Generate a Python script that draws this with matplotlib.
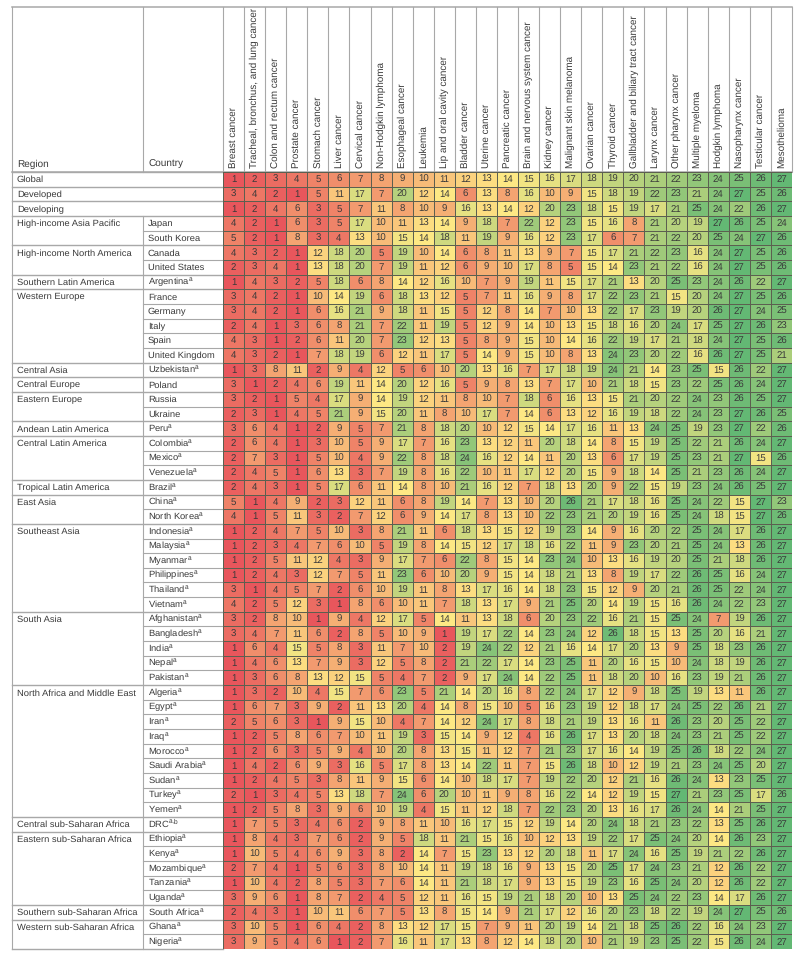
import numpy as np
import matplotlib
matplotlib.use("Agg")
from matplotlib import pyplot as plt
from matplotlib.colors import LinearSegmentedColormap

plt.rcParams['font.family'] = ['Liberation Sans', 'DejaVu Sans']
plt.rcParams['mathtext.default'] = 'regular'
plt.rcParams['text.hinting'] = 'no_hinting'

cancers = ["Breast cancer", "Tracheal, bronchus, and lung cancer", "Colon and rectum cancer",
           "Prostate cancer", "Stomach cancer", "Liver cancer", "Cervical cancer",
           "Non-Hodgkin lymphoma", "Esophageal cancer", "Leukemia", "Lip and oral cavity cancer",
           "Bladder cancer", "Uterine cancer", "Pancreatic cancer", "Brain and nervous system cancer",
           "Kidney cancer", "Malignant skin melanoma", "Ovarian cancer", "Thyroid cancer",
           "Gallbladder and biliary tract cancer", "Larynx cancer", "Other pharynx cancer",
           "Multiple myeloma", "Hodgkin lymphoma", "Nasopharynx cancer", "Testicular cancer",
           "Mesothelioma"]

# region name, number of rows it covers
regions = [("Global", 1), ("Developed", 1), ("Developing", 1), ("High-income Asia Pacific", 2),
           ("High-income North America", 2), ("Southern Latin America", 1), ("Western Europe", 5),
           ("Central Asia", 1), ("Central Europe", 1), ("Eastern Europe", 2),
           ("Andean Latin America", 1), ("Central Latin America", 3), ("Tropical Latin America", 1),
           ("East Asia", 2), ("Southeast Asia", 6), ("South Asia", 5),
           ("North Africa and Middle East", 9), ("Central sub-Saharan Africa", 1),
           ("Eastern sub-Saharan Africa", 5), ("Southern sub-Saharan Africa", 1),
           ("Western sub-Saharan Africa", 2)]

countries = ["", "", "", "Japan", "South Korea", "Canada", "United States", "Argentina$^{a}$",
             "France", "Germany", "Italy", "Spain", "United Kingdom", "Uzbekistan$^{a}$", "Poland",
             "Russia", "Ukraine", "Peru$^{a}$", "Colombia$^{a}$", "Mexico$^{a}$", "Venezuela$^{a}$",
             "Brazil$^{a}$", "China$^{a}$", "North Korea$^{a}$", "Indonesia$^{a}$", "Malaysia$^{a}$",
             "Myanmar$^{a}$", "Philippines$^{a}$", "Thailand$^{a}$", "Vietnam$^{a}$",
             "Afghanistan$^{a}$", "Bangladesh$^{a}$", "India$^{a}$", "Nepal$^{a}$", "Pakistan$^{a}$",
             "Algeria$^{a}$", "Egypt$^{a}$", "Iran$^{a}$", "Iraq$^{a}$", "Morocco$^{a}$",
             "Saudi Arabia$^{a}$", "Sudan$^{a}$", "Turkey$^{a}$", "Yemen$^{a}$", "DRC$^{a{,}b}$",
             "Ethiopia$^{a}$", "Kenya$^{a}$", "Mozambique$^{a}$", "Tanzania$^{a}$", "Uganda$^{a}$",
             "South Africa$^{a}$", "Ghana$^{a}$", "Nigeria$^{a}$"]

ranks = [
    [1, 2, 3, 4, 5, 6, 7, 8, 9, 10, 11, 12, 13, 14, 15, 16, 17, 18, 19, 20, 21, 22, 23, 24, 25, 26, 27],
    [3, 4, 2, 1, 5, 11, 17, 7, 20, 12, 14, 6, 13, 8, 16, 10, 9, 15, 18, 19, 22, 23, 21, 24, 27, 25, 26],
    [1, 2, 4, 6, 3, 5, 7, 11, 8, 10, 9, 16, 13, 14, 12, 20, 23, 18, 15, 19, 17, 21, 25, 24, 22, 26, 27],
    [4, 2, 1, 6, 3, 5, 17, 10, 11, 13, 14, 9, 18, 7, 22, 12, 23, 15, 16, 8, 21, 20, 19, 27, 26, 25, 24],
    [5, 2, 1, 8, 3, 4, 13, 10, 15, 14, 18, 11, 19, 9, 16, 12, 23, 17, 6, 7, 21, 22, 20, 25, 24, 27, 26],
    [4, 3, 2, 1, 12, 18, 20, 5, 19, 10, 14, 6, 8, 11, 13, 9, 7, 15, 17, 21, 22, 23, 16, 24, 27, 25, 26],
    [2, 3, 4, 1, 13, 18, 20, 7, 19, 11, 12, 6, 9, 10, 17, 8, 5, 15, 14, 23, 21, 22, 16, 24, 27, 25, 26],
    [1, 4, 3, 2, 5, 18, 6, 8, 14, 12, 16, 10, 7, 9, 19, 11, 15, 17, 21, 13, 20, 25, 23, 24, 26, 22, 27],
    [3, 4, 2, 1, 10, 14, 19, 6, 18, 13, 12, 5, 7, 11, 16, 9, 8, 17, 22, 23, 21, 15, 20, 24, 27, 25, 26],
    [3, 4, 2, 1, 6, 16, 21, 9, 18, 11, 15, 5, 12, 8, 14, 7, 10, 13, 22, 17, 23, 19, 20, 26, 27, 24, 25],
    [2, 4, 1, 3, 6, 8, 21, 7, 22, 11, 19, 5, 12, 9, 14, 10, 13, 15, 18, 16, 20, 24, 17, 25, 27, 26, 23],
    [4, 3, 1, 2, 6, 11, 20, 7, 23, 12, 13, 5, 8, 9, 15, 10, 14, 16, 22, 19, 17, 21, 18, 24, 27, 25, 26],
    [4, 3, 2, 1, 7, 18, 19, 6, 12, 11, 17, 5, 14, 9, 15, 10, 8, 13, 24, 23, 20, 22, 16, 26, 27, 25, 21],
    [1, 3, 8, 11, 2, 9, 4, 12, 5, 6, 10, 20, 13, 16, 7, 17, 18, 19, 24, 21, 14, 23, 25, 15, 26, 22, 27],
    [3, 1, 2, 4, 6, 19, 11, 14, 20, 12, 16, 5, 9, 8, 13, 7, 17, 10, 21, 18, 15, 23, 22, 25, 26, 24, 27],
    [3, 2, 1, 5, 4, 17, 9, 14, 19, 12, 11, 8, 10, 7, 18, 6, 16, 13, 15, 21, 20, 22, 24, 23, 26, 25, 27],
    [2, 3, 1, 4, 5, 21, 9, 15, 20, 11, 8, 10, 17, 7, 14, 6, 13, 12, 16, 19, 18, 22, 24, 23, 27, 26, 25],
    [3, 6, 4, 1, 2, 9, 5, 7, 21, 8, 18, 20, 10, 12, 15, 14, 17, 16, 11, 13, 24, 25, 19, 23, 27, 22, 26],
    [2, 6, 4, 1, 3, 10, 5, 9, 17, 7, 16, 23, 13, 12, 11, 20, 18, 14, 8, 15, 19, 25, 22, 21, 26, 24, 27],
    [2, 7, 3, 1, 5, 10, 4, 9, 22, 8, 18, 24, 16, 12, 14, 11, 20, 13, 6, 17, 19, 25, 23, 21, 27, 15, 26],
    [2, 4, 5, 1, 6, 13, 3, 7, 19, 8, 16, 22, 10, 11, 17, 12, 20, 15, 9, 18, 14, 25, 21, 23, 26, 24, 27],
    [2, 4, 3, 1, 5, 17, 6, 11, 14, 8, 10, 21, 16, 12, 7, 18, 13, 20, 9, 22, 15, 19, 23, 24, 26, 25, 27],
    [5, 1, 4, 9, 2, 3, 12, 11, 6, 8, 19, 14, 7, 13, 10, 20, 26, 21, 17, 18, 16, 25, 24, 22, 15, 27, 23],
    [4, 1, 5, 11, 3, 2, 7, 12, 6, 9, 14, 17, 8, 13, 10, 22, 23, 21, 20, 19, 16, 25, 24, 18, 15, 27, 26],
    [1, 2, 4, 7, 5, 10, 3, 8, 21, 11, 6, 18, 13, 15, 12, 19, 23, 14, 9, 16, 20, 22, 25, 24, 17, 26, 27],
    [1, 2, 3, 4, 7, 6, 10, 5, 19, 8, 14, 15, 12, 17, 18, 16, 22, 11, 9, 23, 20, 21, 25, 24, 13, 26, 27],
    [1, 2, 5, 11, 12, 4, 3, 9, 17, 7, 6, 22, 8, 15, 14, 23, 24, 10, 13, 16, 19, 20, 25, 21, 18, 26, 27],
    [1, 2, 4, 3, 12, 7, 5, 11, 23, 6, 10, 20, 9, 15, 14, 18, 21, 13, 8, 19, 17, 22, 26, 25, 16, 24, 27],
    [3, 1, 4, 5, 7, 2, 6, 10, 19, 11, 8, 13, 17, 16, 14, 18, 23, 15, 12, 9, 20, 21, 26, 25, 22, 24, 27],
    [4, 2, 5, 12, 3, 1, 8, 6, 10, 11, 7, 18, 13, 17, 9, 21, 25, 20, 14, 19, 15, 16, 26, 24, 22, 23, 27],
    [3, 2, 8, 10, 1, 9, 4, 12, 17, 5, 14, 11, 13, 18, 6, 20, 23, 22, 16, 21, 15, 25, 24, 7, 19, 26, 27],
    [3, 4, 7, 11, 6, 2, 8, 5, 10, 9, 1, 19, 17, 22, 14, 23, 24, 12, 26, 18, 15, 13, 25, 20, 16, 21, 27],
    [1, 6, 4, 15, 5, 8, 3, 11, 7, 10, 2, 19, 24, 22, 12, 21, 16, 14, 17, 20, 13, 9, 25, 18, 23, 26, 27],
    [1, 4, 6, 13, 7, 9, 3, 12, 5, 8, 2, 21, 22, 17, 14, 23, 25, 11, 20, 16, 15, 10, 24, 18, 19, 26, 27],
    [1, 3, 6, 8, 13, 12, 15, 5, 4, 7, 2, 9, 17, 24, 14, 22, 25, 11, 18, 20, 10, 16, 23, 19, 21, 26, 27],
    [1, 3, 2, 10, 4, 15, 7, 6, 23, 5, 21, 14, 20, 16, 8, 22, 24, 17, 12, 9, 18, 25, 19, 13, 11, 26, 27],
    [1, 6, 7, 3, 9, 2, 11, 13, 20, 4, 14, 8, 15, 10, 5, 16, 23, 19, 12, 18, 17, 24, 25, 22, 26, 21, 27],
    [2, 5, 6, 3, 1, 9, 15, 10, 4, 7, 14, 12, 24, 17, 8, 18, 21, 19, 13, 16, 11, 26, 23, 20, 25, 22, 27],
    [1, 2, 5, 8, 6, 7, 10, 11, 19, 3, 15, 14, 9, 12, 4, 16, 26, 17, 13, 20, 18, 24, 23, 21, 25, 22, 27],
    [1, 2, 6, 3, 5, 9, 4, 10, 20, 8, 13, 15, 11, 12, 7, 21, 23, 17, 16, 14, 19, 25, 26, 18, 22, 24, 27],
    [1, 4, 2, 6, 9, 3, 16, 5, 17, 8, 13, 14, 22, 11, 7, 15, 26, 18, 10, 12, 19, 21, 23, 24, 25, 20, 27],
    [1, 2, 4, 5, 3, 8, 11, 9, 15, 6, 14, 10, 18, 17, 7, 19, 22, 20, 12, 21, 16, 26, 24, 13, 23, 25, 27],
    [2, 1, 3, 4, 5, 13, 18, 7, 24, 6, 20, 10, 11, 9, 8, 16, 22, 14, 12, 19, 15, 27, 21, 23, 25, 17, 26],
    [1, 2, 5, 8, 3, 9, 6, 10, 19, 4, 15, 11, 12, 18, 7, 22, 23, 20, 13, 16, 17, 26, 24, 14, 21, 25, 27],
    [1, 7, 5, 3, 4, 6, 2, 9, 8, 11, 10, 16, 17, 15, 12, 19, 14, 20, 24, 18, 21, 23, 22, 13, 25, 26, 27],
    [1, 8, 4, 3, 7, 6, 2, 9, 5, 18, 11, 21, 15, 16, 10, 12, 13, 19, 22, 17, 25, 24, 20, 14, 26, 23, 27],
    [1, 10, 5, 4, 6, 9, 3, 8, 2, 14, 7, 15, 23, 13, 12, 20, 18, 11, 17, 24, 16, 25, 19, 21, 22, 26, 27],
    [2, 7, 4, 1, 5, 6, 3, 8, 10, 14, 11, 19, 18, 16, 9, 13, 15, 20, 25, 17, 24, 23, 21, 12, 26, 22, 27],
    [1, 10, 4, 2, 8, 5, 3, 7, 6, 14, 11, 21, 18, 17, 9, 13, 15, 19, 23, 16, 25, 24, 20, 12, 26, 22, 27],
    [3, 9, 6, 1, 8, 7, 2, 4, 5, 12, 11, 16, 15, 19, 21, 18, 20, 10, 13, 25, 24, 22, 23, 14, 17, 26, 27],
    [2, 4, 3, 1, 10, 11, 6, 7, 5, 13, 8, 15, 14, 9, 21, 17, 12, 16, 20, 23, 18, 22, 19, 24, 27, 25, 26],
    [3, 10, 5, 1, 6, 4, 2, 8, 13, 12, 17, 15, 7, 9, 11, 20, 19, 14, 21, 18, 25, 26, 22, 16, 24, 23, 27],
    [3, 9, 5, 4, 6, 1, 2, 7, 16, 11, 17, 13, 8, 12, 14, 18, 20, 10, 21, 19, 23, 25, 22, 15, 26, 24, 27],
]
ranks = np.array(ranks)
nrows, ncols = ranks.shape

W, H = 800, 955
left, right, top, bottom = 223, 792, 172, 949
x0, x1 = 12, 143       # region and country column edges
head_top = 7.5
rh = (bottom - top) / nrows
line = '#a8a8a8'
ink = '#3a3a3a'
label_size = 6.75

fig = plt.figure(figsize=(W / 100, H / 100), dpi=100)

# pixel-space axes for the table rules and the two text columns
tb = fig.add_axes([0, 0, 1, 1])
tb.set_xlim(0, W)
tb.set_ylim(H, 0)
tb.axis('off')

cmap = LinearSegmentedColormap.from_list('rank', ['#e8565c', '#fee884', '#63b874'])
ax = fig.add_axes([left / W, 1 - bottom / H, (right - left) / W, (bottom - top) / H])
ax.pcolormesh(np.arange(ncols + 1), np.arange(nrows + 1), ranks, cmap=cmap, vmin=1, vmax=27,
              edgecolors='#5c5f50', linewidth=0.4)
ax.set_xlim(0, ncols)
ax.set_ylim(nrows, 0)
for s in ax.spines.values():
    s.set_visible(False)
ax.set_yticks([])
ax.xaxis.tick_top()
ax.set_xticks(np.arange(ncols) + 0.5)
ax.set_xticklabels(cancers, rotation=90, ha='center', va='bottom', fontsize=7.1, color=ink)
ax.tick_params(axis='x', length=0, pad=3)

for i in range(nrows):
    for j in range(ncols):
        ax.text(j + 0.5, i + 0.52, str(ranks[i, j]), ha='center', va='center', fontsize=6.9, color=ink)

# header rules
tb.plot([x0, right], [head_top, head_top], color=line, lw=1.1)
tb.plot([x0, right], [top, top], color=line, lw=1.1)
tb.plot([x0, x0], [head_top, bottom], color=line, lw=0.8)
tb.plot([x1, x1], [head_top, top], color=line, lw=0.8)
tb.plot([left, left], [head_top, top], color=line, lw=0.8)
for j in range(1, ncols + 1):
    xj = left + j * (right - left) / ncols
    tb.plot([xj, xj], [head_top, top], color=line, lw=0.8)
tb.text(x0 + 5, top - 5, "Region", fontsize=7.2, color=ink, va='baseline')
tb.text(x1 + 5, top - 5, "Country", fontsize=7.2, color=ink, va='baseline')

# region column and the rows under it; baseline a fixed step below the row top
base = rh / 2 + 3
row = 0
for name, span in regions:
    y = top + row * rh
    tb.plot([x0, left], [y, y], color=line, lw=1.0)
    tb.text(x0 + 5, y + base, name, fontsize=label_size, color=ink, va='baseline')
    if countries[row]:
        tb.plot([x1, x1], [y, y + span * rh], color=line, lw=0.8)
    for k in range(1, span):
        tb.plot([x1, left], [y + k * rh, y + k * rh], color=line, lw=0.8)
    row += span
tb.plot([x0, left], [bottom, bottom], color=line, lw=1.0)

for i, name in enumerate(countries):
    if name:
        tb.text(x1 + 5, top + i * rh + base, name, fontsize=label_size, color=ink, va='baseline')

fig.savefig('out.png', dpi=100)
